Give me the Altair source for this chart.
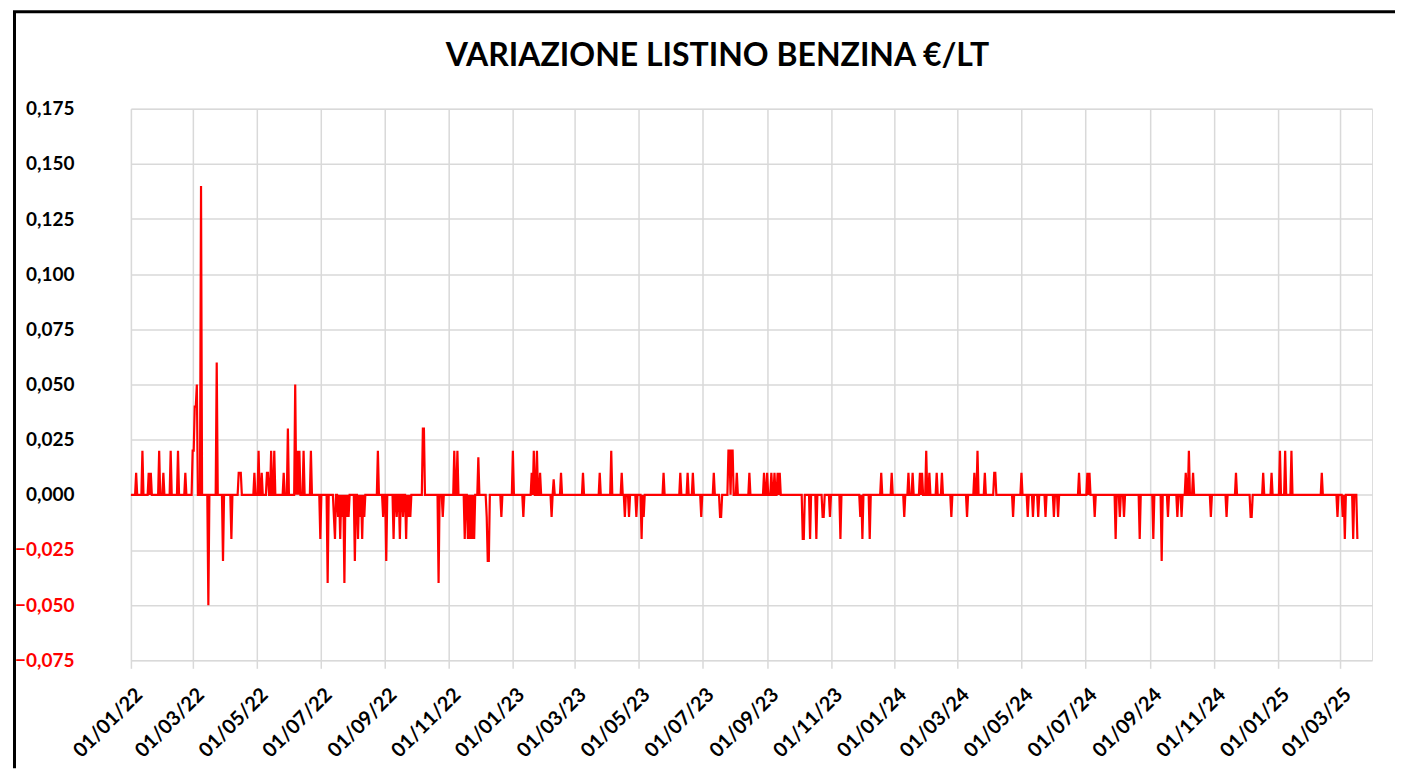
import altair as alt
import numpy as np
import pandas as pd

# ---- data ----
start_date = "2022-01-01"
n_days = 1173  # daily series, 01/01/22 .. ~18/03/25

# days since 01/01/22 on which the listino changed, and the change in €/lt
spike_days = [
    5, 11, 17, 19, 27, 31, 38, 45, 52, 59, 60, 61, 62, 63, 67, 74, 82, 88, 96,
    103, 104, 105, 118, 122, 125, 130, 131, 134, 137, 146, 150, 157, 159, 161,
    165, 172, 181, 188, 194, 195, 198, 200, 202, 204, 206, 208, 214, 217, 219,
    221, 223, 236, 241, 244, 251, 254, 257, 260, 263, 265, 267, 279, 280, 294,
    298, 309, 312, 319, 322, 324, 326, 328, 332, 340, 341, 342, 354, 365, 375,
    383, 385, 388, 391, 402, 404, 411, 432, 448, 459, 469, 472, 476, 483, 488,
    490, 509, 525, 532, 537, 545, 557, 563, 564, 571, 572, 574, 575, 579, 591,
    605, 608, 612, 615, 618, 620, 642, 643, 649, 655, 661, 662, 668, 678, 697,
    699, 706, 717, 727, 739, 743, 747, 754, 756, 760, 763, 770, 775, 784, 799,
    806, 809, 816, 825, 826, 843, 851, 857, 862, 867, 874, 882, 886, 906, 914,
    916, 921, 941, 945, 949, 964, 977, 985, 991, 1000, 1004, 1008, 1011, 1015,
    1032, 1047, 1056, 1070, 1071, 1082, 1090, 1098, 1103, 1109, 1138, 1153,
    1158, 1160, 1168, 1172,
]
spike_values = [
    0.01, 0.02, 0.01, 0.01, 0.02, 0.01, 0.02, 0.02, 0.01, 0.02, 0.02, 0.04, 0.04,
    0.05, 0.14, -0.05, 0.06, -0.03, -0.02,
    0.01, 0.01, 0.01, 0.01, 0.02, 0.01, 0.01, 0.01, 0.02, 0.02, 0.01, 0.03, 0.05,
    0.02, 0.02,
    0.02, 0.02, -0.02, -0.04, -0.01, -0.02, -0.01, -0.02, -0.01, -0.04, -0.01,
    -0.01, -0.03, -0.02, -0.01,
    -0.02, -0.01, 0.02, -0.01, -0.03, -0.02, -0.01, -0.02, -0.01, -0.02, -0.01,
    -0.01, 0.03, 0.03, -0.04,
    -0.01, 0.02, 0.02, -0.02, -0.02, -0.02, -0.02, -0.02, 0.017, -0.01, -0.03,
    -0.03, -0.01, 0.02, -0.01,
    0.01, 0.02, 0.02, 0.01, -0.01, 0.007, 0.01, 0.01, 0.01, 0.02, 0.01, -0.01,
    -0.01, -0.01, -0.02,
    -0.01, 0.01, 0.01, 0.01, 0.01, -0.01, 0.01, -0.01, -0.01, 0.02, 0.02, 0.02,
    0.02, 0.01, 0.01,
    0.01, 0.01, 0.01, 0.01, 0.01, 0.01, -0.02, -0.02, -0.02, -0.02, -0.01, -0.01,
    -0.01, -0.02, -0.01,
    -0.02, -0.02, 0.01, 0.01, -0.01, 0.01, 0.01, 0.01, 0.01, 0.02, 0.01, 0.01,
    0.01, -0.01, -0.01,
    0.01, 0.02, 0.01, 0.01, 0.01, -0.01, 0.01, -0.01, -0.01, -0.01, -0.01, -0.01,
    -0.01, 0.01, 0.01,
    0.01, -0.01, -0.02, -0.01, -0.01, -0.02, -0.02, -0.03, -0.01, -0.01, -0.01,
    0.01, 0.02, 0.01,
    -0.01, -0.01, 0.01, -0.01, -0.01, 0.01, 0.01, 0.02, 0.02, 0.02, 0.01, -0.01,
    -0.01, -0.02, -0.02, -0.02,
]

tick_labels = [
    "2022-01-01", "2022-03-01", "2022-05-01", "2022-07-01", "2022-09-01",
    "2022-11-01", "2023-01-01", "2023-03-01", "2023-05-01", "2023-07-01",
    "2023-09-01", "2023-11-01", "2024-01-01", "2024-03-01", "2024-05-01",
    "2024-07-01", "2024-09-01", "2024-11-01", "2025-01-01", "2025-03-01",
]
x_domain = ["2022-01-01", "2025-04-01"]
y_ticks = [-0.075, -0.05, -0.025, 0.0, 0.025, 0.05, 0.075, 0.1, 0.125, 0.15, 0.175]

title_text = "VARIAZIONE LISTINO BENZINA €/LT"

# ---- build table ----
values = np.zeros(n_days)
for d, v in zip(spike_days, spike_values):
    values[d] = v
dates = pd.date_range(start_date, periods=n_days, freq="D").strftime("%Y-%m-%d")
df = pd.DataFrame({"data": dates, "variazione": values})


def dt(s):
    y, m, d = (int(p) for p in s.split("-"))
    return alt.DateTime(year=y, month=m, date=d, utc=True)


FONT = "Lato"
GRID = "#d9d9d9"

line = alt.Chart(df).mark_line(color="#ff0000", strokeWidth=2.2).encode(
    x=alt.X(
        "data:T",
        scale=alt.Scale(type="utc", domain=[dt(s) for s in x_domain]),
        axis=alt.Axis(
            title=None,
            values=[dt(s) for s in tick_labels],
            labelExpr="utcFormat(datum.value, '%d/%m/%y')",
            labelAngle=-45,
            labelFont=FONT,
            labelFontSize=20,
            labelFontWeight="bold",
            labelColor="black",
            labelPadding=16,
            labelOffset=1,
            labelOverlap=False,
            labelFlush=False,
            grid=True,
            gridColor=GRID,
            gridWidth=1.5,
            domain=False,
            ticks=True,
            tickColor=GRID,
            tickWidth=1.5,
            tickSize=8,
        ),
    ),
    y=alt.Y(
        "variazione:Q",
        scale=alt.Scale(domain=[-0.075, 0.175], nice=False, zero=False),
        axis=alt.Axis(
            title=None,
            values=y_ticks,
            labelExpr="replace(format(datum.value, '.3f'), '.', ',')",
            labelFont=FONT,
            labelFontSize=19,
            labelFontWeight="bold",
            labelColor={"condition": {"test": "datum.value < 0", "value": "#ff0000"}, "value": "black"},
            labelPadding=57,
            grid=True,
            gridColor=GRID,
            gridWidth=1.5,
            domain=False,
            ticks=False,
            tickSize=0,
        ),
    ),
)

frame_df = pd.DataFrame({"k": [0]})
left_border = alt.Chart(frame_df).mark_rule(color="black", strokeWidth=3).encode(
    x=alt.value(-116.5), y=alt.value(-97), y2=alt.value(660)
)
top_border = alt.Chart(frame_df).mark_rule(color="black", strokeWidth=3).encode(
    x=alt.value(-118), x2=alt.value(1265), y=alt.value(-97)
)
title_mark = alt.Chart(pd.DataFrame({"t": [title_text]})).mark_text(
    font=FONT, fontSize=32, fontWeight="bold", color="black",
    align="center", baseline="middle",
).encode(text="t:N", x=alt.value(587), y=alt.value(-53))

chart = (
    alt.layer(line, left_border, top_border, title_mark)
    .properties(
        width=1242,
        height=552,
        padding={"left": 3, "top": 1.5, "right": 0, "bottom": 0},
    )
    .configure_view(stroke="transparent")
    .configure(background="white")
)

chart.save("out.html", embed_options={"renderer": "svg", "actions": False})
